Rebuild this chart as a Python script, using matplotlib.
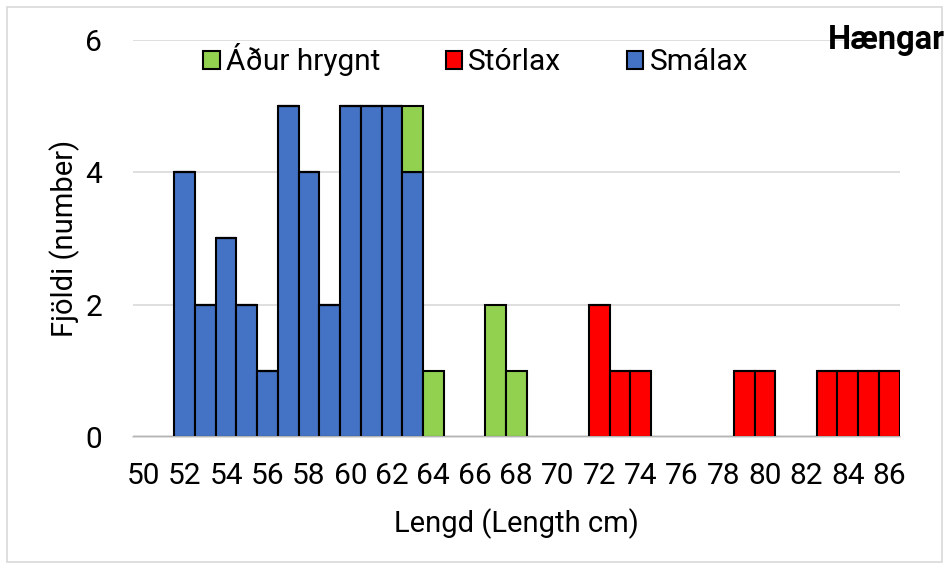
import numpy as np
import matplotlib.pyplot as plt
from matplotlib.patches import Rectangle

# lengd (cm) 50..86
lengths = list(range(50, 87))
smalax = {52: 4, 53: 2, 54: 3, 55: 2, 56: 1, 57: 5, 58: 4, 59: 2, 60: 5, 61: 5, 62: 5, 63: 4}
storlax = {72: 2, 73: 1, 74: 1, 79: 1, 80: 1, 83: 1, 84: 1, 85: 1, 86: 1}
adur_hrygnt = {63: 1, 64: 1, 67: 2, 68: 1}

sma = np.array([smalax.get(l, 0) for l in lengths])
sto = np.array([storlax.get(l, 0) for l in lengths])
adur = np.array([adur_hrygnt.get(l, 0) for l in lengths])

plt.rcParams['font.family'] = ['Roboto', 'DejaVu Sans']

fig = plt.figure(figsize=(9.49, 5.69), dpi=100)
ax = fig.add_axes([0.140, 0.232, 0.808, 0.698])

x = np.arange(len(lengths))
kw = dict(width=1.0, edgecolor='black', linewidth=1.5)
b1 = ax.bar(x, sma, color='#4472C4', label='Smálax', **kw)
b2 = ax.bar(x, sto, bottom=sma, color='#FF0000', label='Stórlax', **kw)
b3 = ax.bar(x, adur, bottom=sma + sto, color='#92D050', label='Áður hrygnt', **kw)

ax.set_xlim(-0.5, len(lengths) - 0.5)
ax.set_ylim(0, 6)
ax.set_yticks([0, 2, 4, 6])
ax.set_xticks(x[::2])
ax.set_xticklabels([str(l) for l in lengths[::2]])
ax.tick_params(axis='both', length=0, labelsize=21.5)
ax.tick_params(axis='x', pad=18)
ax.tick_params(axis='y', pad=22)
ax.yaxis.grid(True, color='#d9d9d9', linewidth=1.2)
ax.set_axisbelow(True)
for s in ['top', 'right', 'left']:
    ax.spines[s].set_visible(False)
ax.spines['bottom'].set_color('#d9d9d9')
ax.spines['bottom'].set_linewidth(1.2)

ax.set_xlabel('Lengd (Length cm)', fontsize=21, labelpad=13)
ax.set_ylabel('Fjöldi (number)', fontsize=21, labelpad=4)

ax.legend(handles=[b3, b2, b1], loc='center', bbox_to_anchor=(0.447, 0.95),
          ncol=3, frameon=False, fontsize=21.5, handlelength=0.55, handleheight=0.55,
          handletextpad=0.2, columnspacing=2.2, borderpad=0, borderaxespad=0)

fig.text(0.996, 0.93, 'Hængar', fontsize=23.5, fontweight='bold', ha='right', va='center')

fig.patches.append(Rectangle((0.007, 0.012), 0.986, 0.976, transform=fig.transFigure,
                             fill=False, edgecolor='#d9d9d9', linewidth=1.2))

fig.savefig('out.png', dpi=100)
